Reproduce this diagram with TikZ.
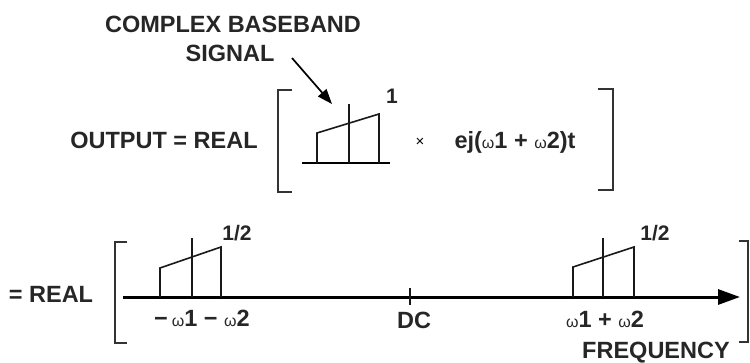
\documentclass[tikz,border=0pt]{standalone}
\usepackage{fontspec}
\setmainfont{Liberation Sans}
\usetikzlibrary{arrows.meta}
\newcommand\omg{{\fontsize{16}{18}\mdseries\selectfont ω}}
\begin{document}
\begin{tikzpicture}[x=1pt,y=-1pt,
  lbl/.style={font=\bfseries\fontsize{23.5}{27}\selectfont, inner sep=0pt, anchor=base, text=black!85},
  slbl/.style={font=\bfseries\fontsize{21}{25}\selectfont, inner sep=0pt, anchor=base, text=black!85},
  brk/.style={line width=1.7pt, black!80},
  spec/.style={line width=1.6pt, black!90},
  axisline/.style={line width=3pt, -{Triangle[length=22pt,width=15pt]}},
  ptr/.style={line width=1.7pt, -{Triangle[length=15pt,width=11pt]}}]
\useasboundingbox (0,0) rectangle (750,362);
% texts
\node[lbl] (cbs) at (233,32) {COMPLEX BASEBAND};
\node[lbl] (sig) at (230,61) {SIGNAL};
\node[lbl] (out) at (164,148) {OUTPUT = REAL};
\node[lbl] (real2) at (51,302) {= REAL};
\node[slbl] (one) at (392,103) {1};
\node[inner sep=0pt, anchor=base, font=\fontsize{15}{17}\selectfont] (times) at (420,146) {×};
\node[lbl] (exp) at (515,148) {ej(\omg1 + \omg2)t};
\node[slbl] (halfL) at (237,240) {1/2};
\node[slbl] (halfR) at (655,240) {1/2};
\node[lbl] (negf) at (202,326) {−\,\omg1 − \omg2};
\node[lbl] (dc) at (414,328) {DC};
\node[lbl] (posf) at (605,327) {\omg1 + \omg2};
\node[lbl] (freq) at (656,358) {FREQUENCY};
% pointer arrow
\coordinate (pA) at (292,58);
\coordinate (pB) at (332,104);
\draw[ptr] (pA) -- (pB);
% brackets
\draw[brk] (292,90) -- (278,90) -- (278,192) -- (292,192);
\draw[brk] (598,89) -- (613,89) -- (613,190) -- (598,190);
\draw[brk] (127,242) -- (115,242) -- (115,343) -- (127,343);
\draw[brk] (739,241) -- (748,241) -- (748,342) -- (739,342);
% small spectrum
\draw[line width=2.4pt] (302,163) -- (390,163);
\draw[spec] (317,163) -- (317,133) -- (379,114) -- (379,163);
\draw[spec] (349,163) -- (349,104);
% axis
\coordinate (axs) at (123,297);
\coordinate (axe) at (740,297);
\draw[axisline] (axs) -- (axe);
\draw[spec] (410,288) -- (410,305);
% left spectrum
\draw[spec] (160,297) -- (160,268) -- (221,247) -- (221,297);
\draw[spec] (192,297) -- (192,238);
% right spectrum
\draw[spec] (573,297) -- (573,267) -- (634,247) -- (634,297);
\draw[spec] (603,297) -- (603,238);
\end{tikzpicture}
\end{document}
